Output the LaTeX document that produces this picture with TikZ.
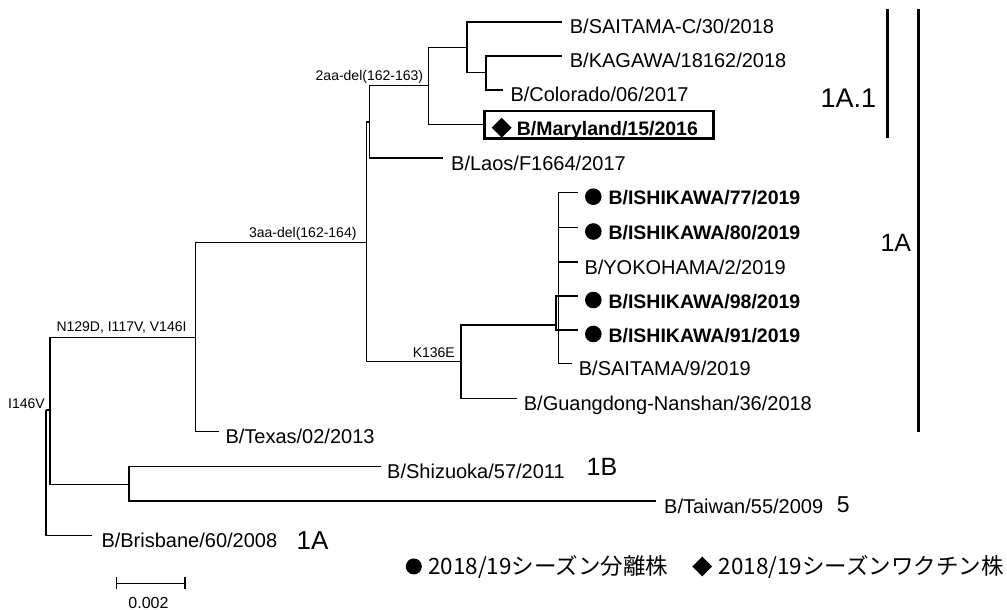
\documentclass[tikz,border=0pt]{standalone}
\usepackage{fontspec}
\setmainfont{Liberation Sans}
\newfontfamily\jpfont{Noto Sans CJK JP}
\usetikzlibrary{positioning,shapes.geometric}

\tikzset{
  branch/.style={line width=1.2pt},
  leaf/.style={anchor=base west, inner sep=0pt, font=\fontsize{20}{24}\selectfont},
  isolate/.style={anchor=base west, inner sep=0pt, font=\fontsize{19.5}{24}\selectfont\bfseries},
  mut/.style={anchor=base east, inner sep=0pt, font=\fontsize{14}{16}\selectfont},
  isodot/.style={circle, fill, inner sep=0pt, minimum size=16.6pt},
  vax/.style={diamond, fill, inner sep=0pt, minimum width=20pt, minimum height=20pt},
  clade/.style={inner sep=0pt, font=\fontsize{#1}{#1}\selectfont},
  cladebar/.style={line width=3pt},
  legtxt/.style={inner sep=0pt, font=\fontsize{22.5}{26}\jpfont},
}

\begin{document}
\begin{tikzpicture}[x=1pt,y=-1pt]
\useasboundingbox (0,0) rectangle (1007,610);
% inner nodes
\coordinate (r0) at (46,410);
\coordinate (r1) at (50,410);
\coordinate (n2) at (195.7,337.3);
\coordinate (n3) at (366.7,242.7);
\coordinate (n4) at (369.3,122);
\coordinate (n5) at (428.3,85.3);
\coordinate (n6) at (467,47.3);
\coordinate (n7) at (486,72.7);
\coordinate (n8) at (461,361.7);
\coordinate (n9) at (556,325);
\coordinate (n10) at (558.3,296);
\coordinate (n11) at (129,484.3);
% tips
\coordinate (tSaitamaC) at (561.7,22);
\coordinate (tKagawa) at (561.7,56);
\coordinate (tColorado) at (503.3,90);
\coordinate (tLaos) at (443,158);
\coordinate (tIsh77) at (578.3,192.7);
\coordinate (tIsh80) at (578.3,227.5);
\coordinate (tYokohama) at (578.3,262);
\coordinate (tIsh98) at (578.3,296);
\coordinate (tIsh91) at (578.3,330);
\coordinate (tSaitama) at (571.7,363.3);
\coordinate (tGuangdong) at (516.7,398.3);
\coordinate (tTexas) at (219.3,431.7);
\coordinate (tShizuoka) at (381,466.5);
\coordinate (tTaiwan) at (656,501);
\coordinate (tBrisbane) at (92.3,535.3);
% vaccine strain box
\node[draw, line width=2.5pt, minimum width=229pt, minimum height=27.5pt, inner sep=0pt, anchor=west] (maryland) at (483,124.7) {};
% branches
\draw[branch] (r0) |- (r1);
\draw[branch] (r0) |- (tBrisbane);
\draw[branch] (r1) |- (n2);
\draw[branch] (r1) |- (n11);
\draw[branch] (n11) |- (tShizuoka);
\draw[branch] (n11) |- (tTaiwan);
\draw[branch] (n2) |- (n3);
\draw[branch] (n2) |- (tTexas);
\draw[branch] (n3) |- (n4);
\draw[branch] (n3) |- (n8);
\draw[branch] (n4) |- (n5);
\draw[branch] (n4) |- (tLaos);
\draw[branch] (n5) |- (n6);
\draw[branch] (n5) |- (maryland.west);
\draw[branch] (n6) |- (tSaitamaC);
\draw[branch] (n6) |- (n7);
\draw[branch] (n7) |- (tKagawa);
\draw[branch] (n7) |- (tColorado);
\draw[branch] (n8) |- (n9);
\draw[branch] (n8) |- (tGuangdong);
\draw[branch] (n9) |- (n10);
\draw[branch] (n9) |- (tIsh91);
\draw[branch] (n10) |- (tIsh77);
\draw[branch] (n10) |- (tIsh80);
\draw[branch] (n10) |- (tYokohama);
\draw[branch] (n10) |- (tIsh98);
\draw[branch] (n10) |- (tSaitama);
% mutations
\node[mut] (mI146V) at ([xshift=-1pt,yshift=2pt]r0) {I146V};
\node[mut] (mN129D) at ([xshift=-9pt,yshift=5.6pt]n2) {N129D, I117V, V146I};
\node[mut] (m3aa) at ([xshift=-10pt,yshift=5pt]n3) {3aa-del(162-164)};
\node[mut] (m2aa) at ([xshift=-5pt,yshift=4.3pt]n5) {2aa-del(162-163)};
\node[mut] (mK136E) at ([xshift=-6pt,yshift=4.7pt]n8) {K136E};
% strain names
\node[leaf] (lSaitamaC) at ([xshift=8pt,yshift=-12pt]tSaitamaC) {B/SAITAMA-C/30/2018};
\node[leaf] (lKagawa) at ([xshift=8pt,yshift=-12pt]tKagawa) {B/KAGAWA/18162/2018};
\node[leaf] (lColorado) at ([xshift=7pt,yshift=-12pt]tColorado) {B/Colorado/06/2017};
\node[vax] (dMaryland) at (501.7,127.7) {};
\node[isolate] (lMaryland) at (516.7,135) {B/Maryland/15/2016};
\node[leaf] (lLaos) at ([xshift=8pt,yshift=-12pt]tLaos) {B/Laos/F1664/2017};
\node[isodot] (dIsh77) at ([xshift=15pt,yshift=-4pt]tIsh77) {};
\node[isolate] (lIsh77) at ([xshift=30pt,yshift=-12pt]tIsh77) {B/ISHIKAWA/77/2019};
\node[isodot] (dIsh80) at ([xshift=15pt,yshift=-4pt]tIsh80) {};
\node[isolate] (lIsh80) at ([xshift=30pt,yshift=-12pt]tIsh80) {B/ISHIKAWA/80/2019};
\node[leaf] (lYokohama) at ([xshift=6pt,yshift=-12pt]tYokohama) {B/YOKOHAMA/2/2019};
\node[isodot] (dIsh98) at ([xshift=15pt,yshift=-4pt]tIsh98) {};
\node[isolate] (lIsh98) at ([xshift=30pt,yshift=-12pt]tIsh98) {B/ISHIKAWA/98/2019};
\node[isodot] (dIsh91) at ([xshift=15pt,yshift=-4pt]tIsh91) {};
\node[isolate] (lIsh91) at ([xshift=30pt,yshift=-12pt]tIsh91) {B/ISHIKAWA/91/2019};
\node[leaf] (lSaitama) at ([xshift=7pt,yshift=-12pt]tSaitama) {B/SAITAMA/9/2019};
\node[leaf] (lGuangdong) at ([xshift=7pt,yshift=-12pt]tGuangdong) {B/Guangdong-Nanshan/36/2018};
\node[leaf] (lTexas) at ([xshift=6pt,yshift=-12pt]tTexas) {B/Texas/02/2013};
\node[leaf] (lShizuoka) at ([xshift=6pt,yshift=-12pt]tShizuoka) {B/Shizuoka/57/2011};
\node[leaf] (lTaiwan) at ([xshift=8pt,yshift=-12pt]tTaiwan) {B/Taiwan/55/2009};
\node[leaf] (lBrisbane) at ([xshift=9pt,yshift=-12pt]tBrisbane) {B/Brisbane/60/2008};
% clades
\draw[cladebar] (887.7,9.3) -- (887.7,138.3);
\draw[cladebar] (918.3,9.3) -- (918.3,431.7);
\node[clade=27] (g1a1) at (848.3,98.3) {1A.1};
\node[clade=25] (g1a) at (895.8,243.3) {1A};
\node[clade=25] (g1b) at (602,467.3) {1B};
\node[clade=23] (g5) at (843.3,504.3) {5};
\node[clade=26] (g1aB) at (312.5,540.5) {1A};
% scale bar
\draw[branch] (116.7,583.3) -- (185,583.3);
\draw[branch] (116.7,577.3) -- (116.7,589.3);
\draw[branch] (185,577.3) -- (185,589.3);
\node[inner sep=0pt, anchor=base, font=\fontsize{16}{18}\selectfont] (scale) at (148.5,608) {0.002};
% legend
\node[legtxt, anchor=base west] (leg1) at (428,574) {2018/19シーズン分離株};
\node[isodot, minimum size=16pt, left=6pt of leg1] (legdot) {};
\node[legtxt, anchor=base east] (leg2) at (1004,574) {2018/19シーズンワクチン株};
\node[vax, left=6pt of leg2] (legdia) {};
\end{tikzpicture}
\end{document}
